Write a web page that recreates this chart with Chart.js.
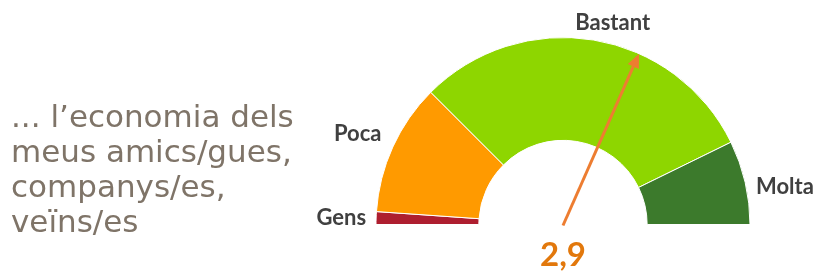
<!DOCTYPE html>
<html>
<head>
<meta charset="utf-8">
<script src="https://cdn.jsdelivr.net/npm/chart.js@4.4.1/dist/chart.umd.min.js"></script>
<style>
  html, body { margin: 0; padding: 0; background: #fff; }
  #wrap { position: relative; width: 814px; height: 274px; }
  #gauge { position: absolute; left: 0; top: 0; }
  #pregunta {
    position: absolute; left: 11px; top: 99px;
    font-family: "DejaVu Sans", sans-serif;
    font-size: 31px; line-height: 35px; color: #7f7468;
    white-space: nowrap;
  }
</style>
</head>
<body>
<div id="wrap">
  <canvas id="gauge" width="814" height="274"></canvas>
  <div id="pregunta">... l’economia dels<br>meus amics/gues,<br>companys/es,<br>veïns/es</div>
</div>
<script>
// Dades
const categories = ["Gens", "Poca", "Bastant", "Molta"];
const percentatges = [2.2, 22.8, 60.5, 14.5];
const colors = ["#ae1e2f", "#ff9a00", "#8ed600", "#3c7a2c"];
const escalaMin = 1;
const escalaMax = 4;
const mitjana = 2.9;
const mitjanaText = "2,9";

// Etiquetes i agulla dibuixades sobre el dònut
const gaugeExtras = {
    id: 'gaugeExtras',
    afterDraw(chart) {
        const ctx = chart.ctx;
        const arcs = chart.getDatasetMeta(0).data;
        const cx = arcs[0].x;
        const cy = arcs[0].y;
        const R = arcs[0].outerRadius;

        // etiquetes de categoria
        const nudges = [[-2, 0], [-4, -10], [16, 1], [3, 6]];
        ctx.save();
        ctx.font = 'bold 22px Lato, "Noto Sans", sans-serif';
        ctx.fillStyle = '#404040';
        ctx.textBaseline = 'middle';
        arcs.forEach((arc, i) => {
            const mid = (arc.startAngle + arc.endAngle) / 2;
            const r = R + (i === 2 ? 18 : 8);
            const x = cx + Math.cos(mid) * r + nudges[i][0];
            const y = cy + Math.sin(mid) * r + nudges[i][1];
            const c = Math.cos(mid);
            ctx.textAlign = c < -0.3 ? 'right' : (c > 0.3 ? 'left' : 'center');
            ctx.fillText(categories[i], x, y);
        });
        ctx.restore();

        // agulla
        const frac = (mitjana - escalaMin) / (escalaMax - escalaMin);
        const ang = Math.PI + frac * Math.PI;
        const tipX = cx + Math.cos(ang) * R;
        const tipY = cy + Math.sin(ang) * R;
        const baseX = cx + Math.cos(ang) * (R - 14);
        const baseY = cy + Math.sin(ang) * (R - 14);
        ctx.save();
        ctx.strokeStyle = '#ed7d31';
        ctx.fillStyle = '#ed7d31';
        ctx.lineWidth = 3;
        ctx.beginPath();
        ctx.moveTo(cx, cy + 1);
        ctx.lineTo(baseX, baseY);
        ctx.stroke();
        const px = -Math.sin(ang), py = Math.cos(ang);
        ctx.beginPath();
        ctx.moveTo(tipX, tipY);
        ctx.lineTo(baseX + px * 6, baseY + py * 6);
        ctx.lineTo(baseX - px * 6, baseY - py * 6);
        ctx.closePath();
        ctx.fill();

        // valor mitjà
        ctx.font = 'bold 33px Lato, "Noto Sans", sans-serif';
        ctx.fillStyle = '#e2780c';
        ctx.textAlign = 'center';
        ctx.textBaseline = 'middle';
        ctx.fillText(mitjanaText, cx, cy + 31);
        ctx.restore();
    }
};

new Chart(document.getElementById('gauge').getContext('2d'), {
    type: 'doughnut',
    data: {
        labels: categories,
        datasets: [{
            data: percentatges,
            backgroundColor: colors,
            borderColor: '#ffffff',
            borderWidth: 1
        }]
    },
    options: {
        responsive: false,
        animation: false,
        rotation: -90,
        circumference: 180,
        cutout: '45%',
        layout: { padding: { left: 374, right: 62, top: 37, bottom: 49 } },
        plugins: {
            legend: { display: false },
            tooltip: { enabled: false }
        }
    },
    plugins: [gaugeExtras]
});
</script>
</body>
</html>
